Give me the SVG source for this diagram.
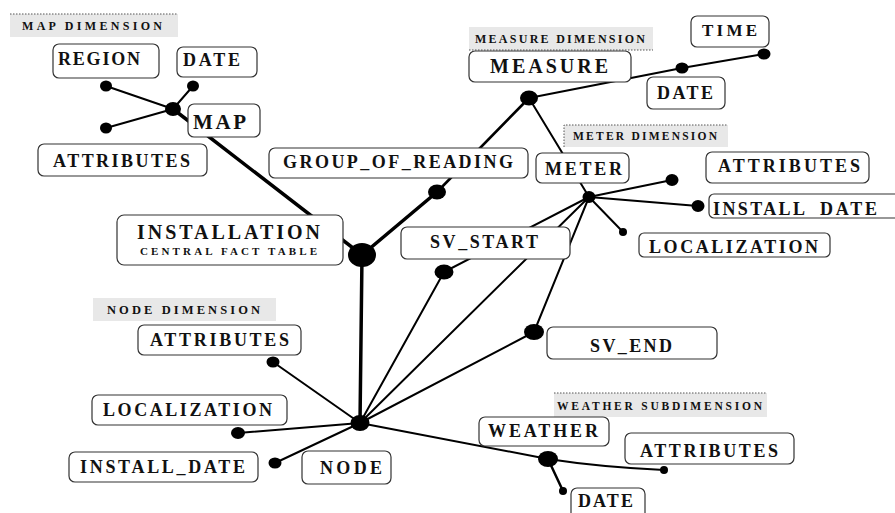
<svg xmlns="http://www.w3.org/2000/svg" width="895" height="513" viewBox="0 0 895 513">
  <style>
    .box { fill: #ffffff; stroke: #333333; stroke-width: 1.2; }
    .lbl { font-family: "Liberation Serif", "Times New Roman", serif; font-weight: bold; font-size: 18px; fill: #111111; }
    .dim { fill: #e8e8e8; }
    .dimtxt { font-family: "Liberation Serif", "Times New Roman", serif; font-weight: bold; font-size: 12px; fill: #111111; }
    .dotline { stroke: #555555; stroke-width: 1; stroke-dasharray: 1.5 1.5; fill: none; }
    .ln { stroke: #000000; stroke-width: 2; fill: none; stroke-linecap: round; stroke-linejoin: round; }
    .thick { stroke: #000000; stroke-width: 3.5; fill: none; stroke-linecap: round; }
    .dot { fill: #000000; }
  </style>

  <!-- dimension captions -->
  <g id="dim-map">
    <rect class="dim" x="10" y="14" width="168" height="23"/>
    <line class="dotline" x1="10" y1="14" x2="178" y2="14"/>
    <text class="dimtxt" x="22" y="30" textLength="140" lengthAdjust="spacing">MAP DIMENSION</text>
  </g>
  <g id="dim-measure">
    <rect class="dim" x="469" y="27" width="184" height="23"/>
    <line class="dotline" x1="469" y1="50" x2="653" y2="50"/>
    <text class="dimtxt" x="475" y="43" textLength="170" lengthAdjust="spacing">MEASURE DIMENSION</text>
  </g>
  <g id="dim-meter">
    <rect class="dim" x="564" y="125" width="164" height="22"/>
    <polyline class="dotline" points="564,147 564,125 728,125"/>
    <text class="dimtxt" x="573" y="140" style="font-size:11.5px" textLength="144" lengthAdjust="spacing">METER DIMENSION</text>
  </g>
  <g id="dim-node">
    <rect class="dim" x="93" y="298" width="183" height="23"/>
    <text class="dimtxt" x="107" y="314" style="font-size:12.5px" textLength="153" lengthAdjust="spacing">NODE DIMENSION</text>
  </g>
  <g id="dim-weather">
    <rect class="dim" x="554" y="393" width="213" height="24"/>
    <line class="dotline" x1="554" y1="393" x2="767" y2="393"/>
    <text class="dimtxt" x="557" y="410" style="font-size:11.5px" textLength="205" lengthAdjust="spacing">WEATHER SUBDIMENSION</text>
  </g>

  <!-- connectors and junction dots -->
  <g id="connectors">
    <!-- map dimension -->
    <line class="ln" x1="173" y1="109" x2="106" y2="86"/>
    <line class="ln" x1="173" y1="109" x2="193" y2="86"/>
    <line class="ln" x1="173" y1="109" x2="106" y2="128"/>
    <line class="thick" x1="173" y1="109" x2="362" y2="255"/>
    <!-- measure dimension -->
    <polyline class="ln" points="529,98 682,68 764,54"/>
    <line class="ln" x1="529" y1="98" x2="437" y2="192" style="stroke-width:2.6"/>
    <line class="thick" x1="437" y1="192" x2="362" y2="255"/>
    <line class="ln" x1="529" y1="98" x2="589" y2="197"/>
    <!-- installation to node -->
    <line class="thick" x1="362" y1="255" x2="360" y2="423"/>
    <!-- meter dimension -->
    <line class="ln" x1="589" y1="197" x2="672" y2="180"/>
    <line class="ln" x1="589" y1="197" x2="698" y2="206"/>
    <line class="ln" x1="589" y1="197" x2="623" y2="232"/>
    <polyline class="ln" points="589,197 444,272 360,423"/>
    <line class="ln" x1="589" y1="197" x2="360" y2="423"/>
    <polyline class="ln" points="589,197 534,332 360,423"/>
    <!-- node dimension -->
    <line class="ln" x1="360" y1="423" x2="273" y2="362"/>
    <line class="ln" x1="360" y1="423" x2="238" y2="433"/>
    <line class="ln" x1="360" y1="423" x2="275" y2="463"/>
    <!-- weather subdimension -->
    <path class="ln" d="M360,423 L548,459 Q600,467 664,470"/>
    <line class="ln" x1="548" y1="459" x2="563" y2="491" style="stroke-width:2.5"/>

    <ellipse class="dot" cx="173" cy="109" rx="8" ry="7"/>
    <ellipse class="dot" cx="106" cy="86" rx="6" ry="5.5"/>
    <ellipse class="dot" cx="193" cy="86" rx="6" ry="5.5"/>
    <ellipse class="dot" cx="106" cy="128" rx="6" ry="5.5"/>
    <ellipse class="dot" cx="362" cy="255" rx="14" ry="12"/>
    <ellipse class="dot" cx="529" cy="98" rx="9" ry="7.5"/>
    <ellipse class="dot" cx="682" cy="68" rx="6.5" ry="5.5"/>
    <ellipse class="dot" cx="764" cy="54" rx="6.5" ry="5.5"/>
    <ellipse class="dot" cx="437" cy="192" rx="9" ry="7.5"/>
    <ellipse class="dot" cx="589" cy="197" rx="6.5" ry="6"/>
    <ellipse class="dot" cx="672" cy="180" rx="6.5" ry="6"/>
    <ellipse class="dot" cx="698" cy="206" rx="6.5" ry="6"/>
    <circle class="dot" cx="623" cy="232" r="4"/>
    <ellipse class="dot" cx="444" cy="272" rx="9.5" ry="7.5"/>
    <ellipse class="dot" cx="534" cy="332" rx="10" ry="8"/>
    <ellipse class="dot" cx="360" cy="423" rx="9.5" ry="8"/>
    <ellipse class="dot" cx="273" cy="362" rx="6.5" ry="5.5"/>
    <ellipse class="dot" cx="238" cy="433" rx="7" ry="6"/>
    <ellipse class="dot" cx="275" cy="463" rx="6.5" ry="5.5"/>
    <ellipse class="dot" cx="548" cy="459" rx="10" ry="8"/>
    <circle class="dot" cx="664" cy="470" r="4"/>
    <circle class="dot" cx="563" cy="491" r="4"/>
  </g>

  <!-- map dimension -->
  <g id="map-region">
    <rect class="box" x="53" y="44" width="106" height="34" rx="6"/>
    <text class="lbl" x="58" y="65" textLength="82" lengthAdjust="spacing">REGION</text>
  </g>
  <g id="map-date">
    <rect class="box" x="177" y="47" width="80" height="30" rx="6"/>
    <text class="lbl" x="183" y="66" textLength="57" lengthAdjust="spacing">DATE</text>
  </g>
  <g id="map">
    <rect class="box" x="188" y="104" width="72" height="33" rx="6"/>
    <text class="lbl" x="193" y="129" style="font-size:21px" textLength="53" lengthAdjust="spacing">MAP</text>
  </g>
  <g id="map-attributes">
    <rect class="box" x="38" y="144" width="169" height="32" rx="6"/>
    <text class="lbl" x="53" y="167" textLength="137" lengthAdjust="spacing">ATTRIBUTES</text>
  </g>

  <!-- fact table and reading group -->
  <g id="group-of-reading">
    <rect class="box" x="269" y="148" width="259" height="30" rx="6"/>
    <text class="lbl" x="283" y="168" textLength="230" lengthAdjust="spacing">GROUP_OF_READING</text>
  </g>
  <g id="installation">
    <rect class="box" x="117" y="215" width="226" height="50" rx="7"/>
    <text class="lbl" x="137" y="239" style="font-size:20px" textLength="183" lengthAdjust="spacing">INSTALLATION</text>
    <text class="lbl" x="140" y="255" style="font-size:11px" textLength="177" lengthAdjust="spacing">CENTRAL FACT TABLE</text>
  </g>

  <!-- measure dimension -->
  <g id="measure">
    <rect class="box" x="469" y="51" width="162" height="31" rx="6"/>
    <text class="lbl" x="490" y="73" style="font-size:20px" textLength="118" lengthAdjust="spacing">MEASURE</text>
  </g>
  <g id="measure-time">
    <rect class="box" x="691" y="16" width="78" height="31" rx="6"/>
    <text class="lbl" x="702" y="36" style="font-size:17px" textLength="55" lengthAdjust="spacing">TIME</text>
  </g>
  <g id="measure-date">
    <rect class="box" x="647" y="77" width="78" height="32" rx="6"/>
    <text class="lbl" x="657" y="99" textLength="56" lengthAdjust="spacing">DATE</text>
  </g>

  <!-- meter dimension -->
  <g id="meter">
    <rect class="box" x="536" y="153" width="93" height="30" rx="6"/>
    <text class="lbl" x="545" y="175" textLength="77" lengthAdjust="spacing">METER</text>
  </g>
  <g id="meter-attributes">
    <rect class="box" x="706" y="152" width="163" height="31" rx="6"/>
    <text class="lbl" x="718" y="172" textLength="142" lengthAdjust="spacing">ATTRIBUTES</text>
  </g>
  <g id="meter-install-date">
    <rect class="box" x="709" y="194" width="200" height="24" rx="5"/>
    <text class="lbl" x="713" y="215"><tspan x="713" textLength="91" lengthAdjust="spacing">INSTALL</tspan> <tspan x="820" textLength="57" lengthAdjust="spacing">DATE</tspan></text>
  </g>
  <g id="meter-localization">
    <rect class="box" x="639" y="233" width="191" height="24" rx="5"/>
    <text class="lbl" x="649" y="253" textLength="169" lengthAdjust="spacing">LOCALIZATION</text>
  </g>
  <g id="sv-start">
    <rect class="box" x="401" y="227" width="169" height="32" rx="6"/>
    <text class="lbl" x="430" y="248" textLength="108" lengthAdjust="spacing">SV_START</text>
  </g>
  <g id="sv-end">
    <rect class="box" x="547" y="327" width="170" height="32" rx="6"/>
    <text class="lbl" x="590" y="352" textLength="82" lengthAdjust="spacing">SV_END</text>
  </g>

  <!-- node dimension -->
  <g id="node-attributes">
    <rect class="box" x="138" y="325" width="163" height="30" rx="6"/>
    <text class="lbl" x="150" y="346" textLength="139" lengthAdjust="spacing">ATTRIBUTES</text>
  </g>
  <g id="node-localization">
    <rect class="box" x="92" y="395" width="195" height="30" rx="6"/>
    <text class="lbl" x="103" y="416" textLength="169" lengthAdjust="spacing">LOCALIZATION</text>
  </g>
  <g id="node-install-date">
    <rect class="box" x="69" y="452" width="189" height="30" rx="6"/>
    <text class="lbl" x="80" y="473" textLength="165" lengthAdjust="spacing">INSTALL_DATE</text>
  </g>
  <g id="node">
    <rect class="box" x="302" y="451" width="89" height="33" rx="6"/>
    <text class="lbl" x="320" y="474" textLength="62" lengthAdjust="spacing">NODE</text>
  </g>

  <!-- weather subdimension -->
  <g id="weather">
    <rect class="box" x="479" y="417" width="130" height="29" rx="6"/>
    <text class="lbl" x="488" y="437" textLength="110" lengthAdjust="spacing">WEATHER</text>
  </g>
  <g id="weather-attributes">
    <rect class="box" x="625" y="433" width="169" height="31" rx="6"/>
    <text class="lbl" x="640" y="457" textLength="138" lengthAdjust="spacing">ATTRIBUTES</text>
  </g>
  <g id="weather-date">
    <rect class="box" x="571" y="488" width="74" height="40" rx="6"/>
    <text class="lbl" x="578" y="507" textLength="55" lengthAdjust="spacing">DATE</text>
  </g>
</svg>
